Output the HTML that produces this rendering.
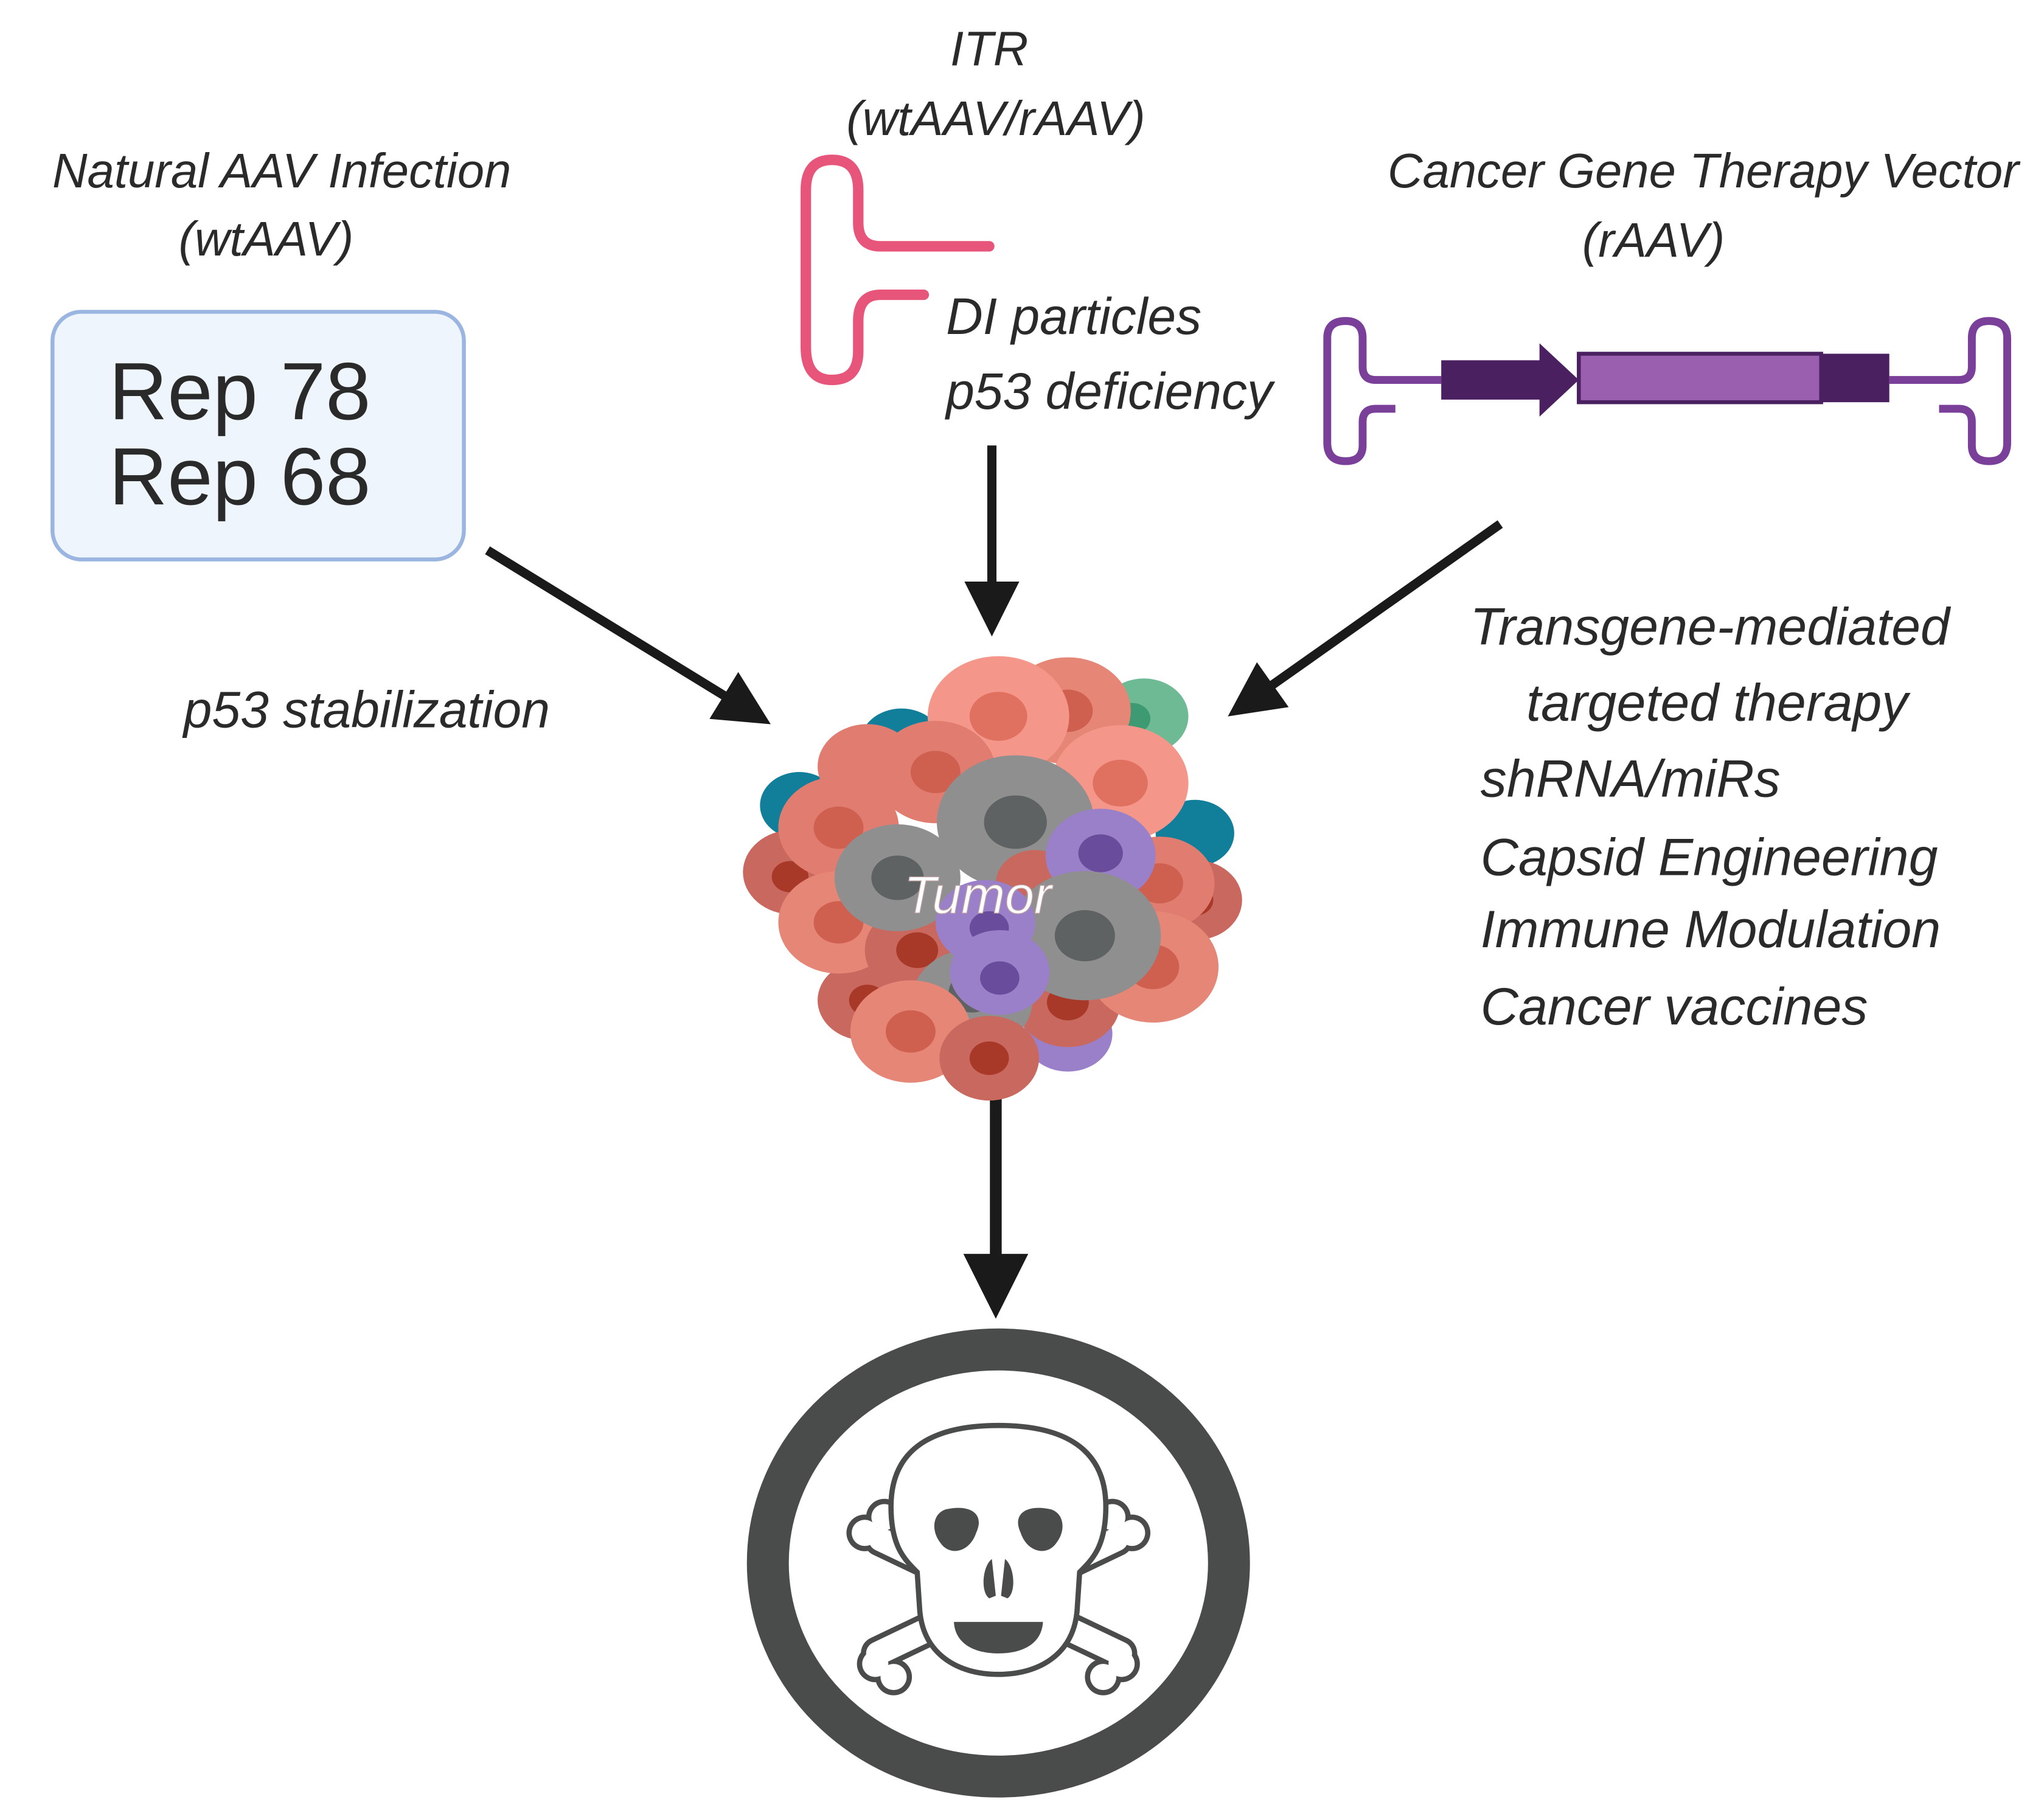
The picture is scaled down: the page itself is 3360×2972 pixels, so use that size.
<!DOCTYPE html>
<html><head><meta charset="utf-8"><style>
html,body{margin:0;padding:0;background:#fff}
svg{display:block}
text{font-family:"Liberation Sans",sans-serif;fill:#2a2a2a}
.i{font-style:italic}
</style></head><body>
<svg width="3360" height="2972" viewBox="0 0 1560 1380" xmlns="http://www.w3.org/2000/svg">
<defs>
<marker id="ah" viewBox="0 0 10 10" markerWidth="6" markerHeight="6" refX="1" refY="5" orient="auto" markerUnits="strokeWidth">
<path d="M0,0 L10,5 L0,10 z" fill="#1a1a1a"/></marker>
<marker id="ah2" viewBox="0 0 10 10" markerWidth="5.5" markerHeight="5.5" refX="1" refY="5" orient="auto" markerUnits="strokeWidth">
<path d="M0,0 L10,5 L0,10 z" fill="#1a1a1a"/></marker>
</defs>
<!-- titles -->
<text class="i" x="215" y="143" font-size="37" text-anchor="middle">Natural AAV Infection</text>
<text class="i" x="203" y="195" font-size="37" text-anchor="middle">(wtAAV)</text>
<text class="i" x="755" y="50" font-size="37" text-anchor="middle">ITR</text>
<text class="i" x="760" y="103" font-size="37" text-anchor="middle">(wtAAV/rAAV)</text>
<text class="i" x="1300" y="143" font-size="37" text-anchor="middle">Cancer Gene Therapy Vector</text>
<text class="i" x="1262" y="196" font-size="37" text-anchor="middle">(rAAV)</text>
<!-- box -->
<rect x="40" y="238" width="314" height="189" rx="22" fill="#eef5fd" stroke="#9ab5e0" stroke-width="3"/>
<text x="83" y="320" font-size="62" fill="#111">Rep 78</text>
<text x="83" y="385" font-size="62" fill="#111">Rep 68</text>
<!-- ITR pink -->
<path d="M755,188 H672 Q655,188 655,170 V145 Q655,122 635,122 Q615,122 615,145 V265 Q615,290 635,290 Q655,290 655,268 V245 Q655,225 672,225 H705" fill="none" stroke="#e8557a" stroke-width="8" stroke-linecap="round"/>
<text class="i" x="722" y="255" font-size="39">DI particles</text>
<text class="i" x="722" y="312" font-size="39">p53 deficiency</text>
<!-- vector -->
<g fill="none" stroke="#7a3f98" stroke-width="6">
<path d="M1100,290 H1050 Q1040,290 1040,280 V258 Q1040,245 1027,245 Q1013,245 1013,258 V338 Q1013,352 1027,352 Q1040,352 1040,340 V322 Q1040,312 1050,312 H1065"/>
<path d="M1442,290 H1495 Q1505,290 1505,280 V258 Q1505,245 1518,245 Q1532,245 1532,258 V338 Q1532,352 1518,352 Q1505,352 1505,340 V322 Q1505,312 1495,312 H1480"/>
</g>
<path d="M1100,275 H1175 V262 L1205,290 L1175,318 V305 H1100 z" fill="#4b2060"/>
<rect x="1205" y="270" width="185" height="37" fill="#9b5fb0" stroke="#4b2060" stroke-width="3"/>
<rect x="1390" y="270" width="52" height="37" fill="#4b2060"/>
<!-- arrows -->
<g stroke="#1a1a1a" stroke-width="7" fill="none">
<line x1="372" y1="420" x2="556" y2="533" marker-end="url(#ah)"/>
<line x1="757" y1="340" x2="757" y2="448" marker-end="url(#ah)"/>
<line x1="1145" y1="400" x2="968" y2="525" marker-end="url(#ah)"/>
<line x1="760" y1="830" x2="760" y2="962" stroke-width="9" marker-end="url(#ah2)"/>
</g>
<text class="i" x="140" y="555" font-size="39">p53 stabilization</text>
<g font-size="40">
<text class="i" x="1122" y="492">Transgene-mediated</text>
<text class="i" x="1165" y="550">targeted  therapy</text>
<text class="i" x="1130" y="608">shRNA/miRs</text>
<text class="i" x="1130" y="668">Capsid Engineering</text>
<text class="i" x="1130" y="723">Immune Modulation</text>
<text class="i" x="1130" y="782">Cancer vaccines</text>
</g>
<!-- tumor -->
<g transform="translate(0,75) scale(1,0.85)">
<circle cx="688" cy="580" r="32" fill="#127f9a"/>
<circle cx="610" cy="635" r="30" fill="#127f9a"/>
<circle cx="912" cy="660" r="30" fill="#127f9a"/>
<circle cx="873" cy="555" r="34" fill="#6dba94"/><circle cx="864" cy="557" r="14" fill="#3d9a72"/>
<circle cx="815" cy="550" r="48" fill="#e58677"/><circle cx="815" cy="550" r="19" fill="#cf6050"/>
<circle cx="662" cy="600" r="38" fill="#e07c70"/>
<circle cx="762" cy="555" r="54" fill="#f4978a"/><circle cx="762" cy="555" r="22" fill="#e07060"/>
<circle cx="714" cy="605" r="46" fill="#e07c70"/><circle cx="714" cy="605" r="19" fill="#cf6050"/>
<circle cx="855" cy="615" r="52" fill="#f4978a"/><circle cx="855" cy="615" r="21" fill="#e07060"/>
<circle cx="605" cy="695" r="38" fill="#c8685e"/><circle cx="603" cy="699" r="14" fill="#a83828"/>
<circle cx="640" cy="655" r="46" fill="#e07c70"/><circle cx="640" cy="655" r="19" fill="#cf6050"/>
<circle cx="912" cy="720" r="36" fill="#c8685e"/><circle cx="912" cy="720" r="14" fill="#a83828"/>
<circle cx="885" cy="705" r="42" fill="#e07c70"/><circle cx="885" cy="705" r="18" fill="#cf6050"/>
<circle cx="660" cy="810" r="36" fill="#c8685e"/><circle cx="662" cy="810" r="14" fill="#a83828"/>
<circle cx="640" cy="740" r="46" fill="#e58677"/><circle cx="640" cy="740" r="19" fill="#cf6050"/>
<circle cx="700" cy="765" r="40" fill="#c8685e"/><circle cx="700" cy="765" r="16" fill="#a83828"/>
<circle cx="685" cy="700" r="48" fill="#8f8f8f"/><circle cx="685" cy="700" r="20" fill="#5f6262"/>
<circle cx="775" cy="650" r="60" fill="#8f8f8f"/><circle cx="775" cy="650" r="24" fill="#5f6262"/>
<circle cx="790" cy="705" r="30" fill="#c8685e"/>
<circle cx="840" cy="680" r="42" fill="#9a80c8"/><circle cx="840" cy="678" r="17" fill="#6a4c9c"/>
<circle cx="815" cy="840" r="34" fill="#9a80c8"/>
<circle cx="815" cy="812" r="40" fill="#c8685e"/><circle cx="815" cy="812" r="16" fill="#a83828"/>
<circle cx="880" cy="780" r="50" fill="#e58677"/><circle cx="880" cy="780" r="20" fill="#cf6050"/>
<circle cx="828" cy="752" r="58" fill="#8f8f8f"/><circle cx="828" cy="752" r="23" fill="#5f6262"/>
<circle cx="742" cy="810" r="46" fill="#8f8f8f"/><circle cx="742" cy="803" r="18" fill="#5f6262"/>
<circle cx="752" cy="740" r="38" fill="#9a80c8"/><circle cx="755" cy="745" r="15" fill="#6a4c9c"/>
<circle cx="763" cy="785" r="38" fill="#9a80c8"/><circle cx="763" cy="790" r="15" fill="#6a4c9c"/>
<circle cx="695" cy="838" r="46" fill="#e58677"/><circle cx="695" cy="838" r="19" fill="#cf6050"/>
<circle cx="755" cy="862" r="38" fill="#c8685e"/><circle cx="755" cy="862" r="15" fill="#a83828"/>
</g>
<text class="i" x="690" y="697" font-size="40" style="fill:#fff;stroke:#c0a0a0;stroke-width:0.6">Tumor</text>
<!-- death symbol -->
<ellipse cx="762" cy="1193" rx="176" ry="163" fill="#fff" stroke="#4a4c4c" stroke-width="32"/>
<g stroke-linecap="round">
<g stroke="#4a4c4c" stroke-width="26">
<line x1="672" y1="1175" x2="855" y2="1262"/>
<line x1="852" y1="1175" x2="670" y2="1262"/>
</g>
<g fill="#4a4c4c">
<circle cx="660" cy="1170" r="14"/><circle cx="675" cy="1158" r="14"/>
<circle cx="864" cy="1170" r="14"/><circle cx="849" cy="1158" r="14"/>
<circle cx="668" cy="1270" r="14"/><circle cx="682" cy="1280" r="14"/>
<circle cx="856" cy="1270" r="14"/><circle cx="842" cy="1280" r="14"/>
</g>
<g stroke="#fff" stroke-width="18">
<line x1="672" y1="1175" x2="855" y2="1262"/>
<line x1="852" y1="1175" x2="670" y2="1262"/>
</g>
<g fill="#fff">
<circle cx="660" cy="1170" r="10"/><circle cx="675" cy="1158" r="10"/>
<circle cx="864" cy="1170" r="10"/><circle cx="849" cy="1158" r="10"/>
<circle cx="668" cy="1270" r="10"/><circle cx="682" cy="1280" r="10"/>
<circle cx="856" cy="1270" r="10"/><circle cx="842" cy="1280" r="10"/>
</g>
</g>
<path d="M762,1088 C700,1088 680,1115 680,1150 C680,1180 690,1190 700,1200 L702,1230 C705,1262 730,1278 762,1278 C794,1278 819,1262 822,1230 L824,1200 C834,1190 844,1180 844,1150 C844,1115 824,1088 762,1088 z" fill="#fff" stroke="#4a4c4c" stroke-width="4"/>
<g fill="#4a4c4c">
<path d="M722,1152 C740,1148 752,1155 745,1170 C740,1185 725,1188 718,1178 C710,1168 712,1155 722,1152 z"/>
<path d="M802,1152 C784,1148 772,1155 779,1170 C784,1185 799,1188 806,1178 C814,1168 812,1155 802,1152 z"/>
<path d="M757,1190 C750,1195 748,1215 755,1220 L760,1218 z M767,1190 C774,1195 776,1215 769,1220 L764,1218 z"/>
<path d="M728,1238 H796 C795,1255 780,1262 762,1262 C744,1262 729,1255 728,1238 z"/>
</g>
</svg>
</body></html>
